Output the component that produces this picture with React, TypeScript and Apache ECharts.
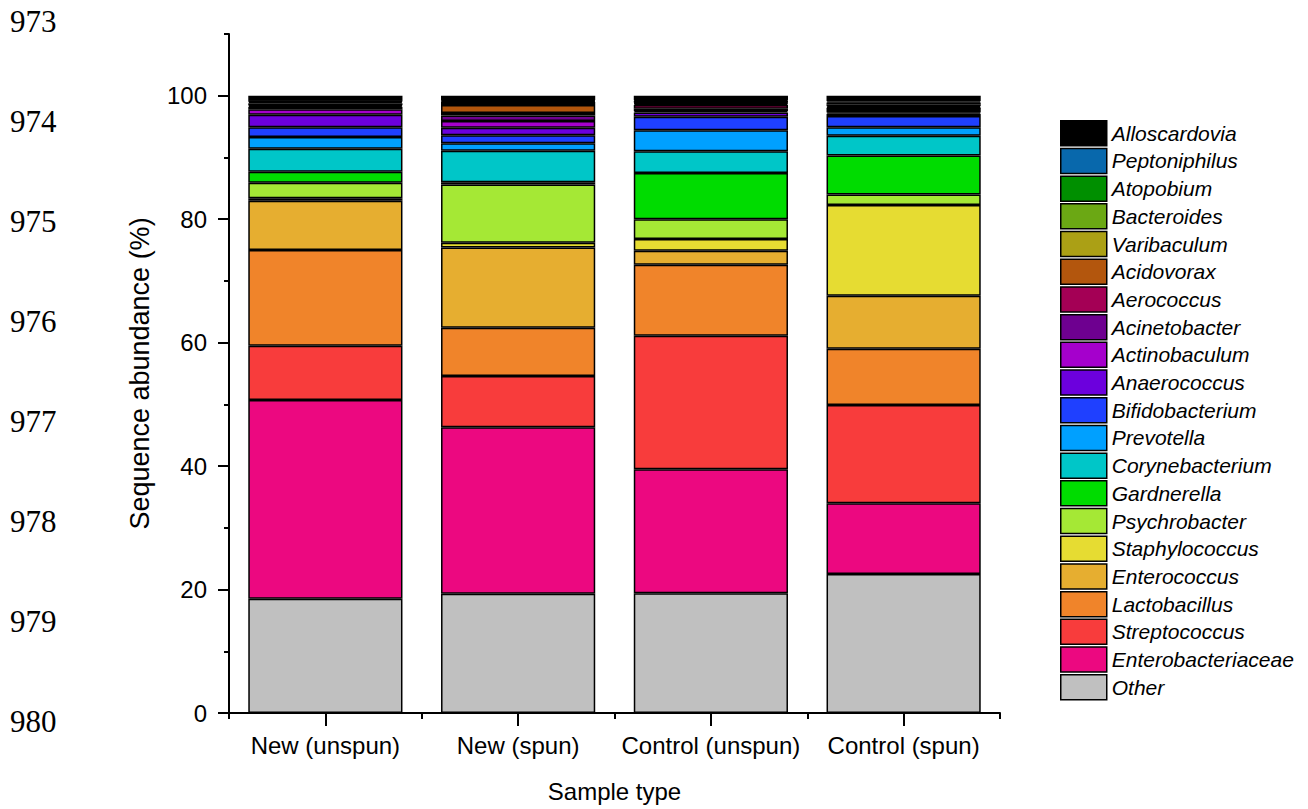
import { useEffect, useRef } from "react";
import * as echarts from "echarts";

// Sample groups on the x axis
const sampleTypes = ["New (unspun)", "New (spun)", "Control (unspun)", "Control (spun)"];

// Relative abundance (%) per taxon, one value per sample group
const other = [18.5, 19.3, 19.4, 22.5];
const enterobacteriaceae = [32.2, 27.0, 20.1, 11.5];
const streptococcus = [8.8, 8.3, 21.6, 15.9];
const lactobacillus = [15.5, 7.8, 11.5, 9.1];
const enterococcus = [8.0, 13.0, 2.3, 8.6];
const staphylococcus = [0.4, 0.8, 1.9, 14.7];
const psychrobacter = [2.5, 9.4, 3.2, 1.7];
const gardnerella = [1.8, 0.4, 7.5, 6.3];
const corynebacterium = [3.7, 5.1, 3.5, 3.2];
const prevotella = [1.9, 1.2, 3.4, 1.4];
const bifidobacterium = [1.6, 1.3, 2.2, 1.8];
const anaerococcus = [2.0, 1.2, 0.7, 0.4];
const actinobaculum = [0.9, 1.1, 0.2, 0.2];
const acinetobacter = [0.4, 0.9, 0.4, 0.4];
const aerococcus = [0.2, 0.4, 0.6, 0.3];
const acidovorax = [0.1, 1.3, 0.2, 0.1];
const varibaculum = [0.3, 0.5, 0.1, 0.2];
const bacteroides = [0.2, 0.1, 0.1, 0.3];
const atopobium = [0.1, 0.1, 0.3, 0.3];
const peptoniphilus = [0.1, 0.1, 0.1, 0.2];
const alloscardovia = [0.8, 0.7, 0.7, 0.9];

// Stack order, bottom to top
const taxonNames = [
  "Other", "Enterobacteriaceae", "Streptococcus", "Lactobacillus", "Enterococcus",
  "Staphylococcus", "Psychrobacter", "Gardnerella", "Corynebacterium", "Prevotella",
  "Bifidobacterium", "Anaerococcus", "Actinobaculum", "Acinetobacter", "Aerococcus",
  "Acidovorax", "Varibaculum", "Bacteroides", "Atopobium", "Peptoniphilus", "Alloscardovia",
];
const taxonValues = [
  other, enterobacteriaceae, streptococcus, lactobacillus, enterococcus,
  staphylococcus, psychrobacter, gardnerella, corynebacterium, prevotella,
  bifidobacterium, anaerococcus, actinobaculum, acinetobacter, aerococcus,
  acidovorax, varibaculum, bacteroides, atopobium, peptoniphilus, alloscardovia,
];
const taxonColors = [
  "#c0c0c0", "#ec0880", "#f83c3c", "#f0842a", "#e6ae30",
  "#e6dc32", "#a5e835", "#00dc00", "#00c6c8", "#00a0ff",
  "#1f40ff", "#6c00dd", "#a500cc", "#6e0090", "#a40055",
  "#b3560d", "#aba015", "#6ba814", "#008f00", "#0868ac", "#000000",
];

// Y axis ticks
const majorTicks = [0, 20, 40, 60, 80, 100];
const minorTicks = [10, 30, 50, 70, 90, 110];

// Manuscript line numbers down the left margin
const lineNumbers = ["973", "974", "975", "976", "977", "978", "979", "980"];

const SANS = '"Liberation Sans", Arial, Helvetica, sans-serif';

export default function App() {
  const ref = useRef<HTMLDivElement>(null);

  useEffect(() => {
    if (!ref.current) return;
    const chart = echarts.init(ref.current, null, { renderer: "svg" });

    const series = taxonNames.map((name, i) => ({
      name,
      type: "bar" as const,
      stack: "abundance",
      xAxisIndex: 0,
      yAxisIndex: 0,
      barCategoryGap: "20%",
      data: taxonValues[i],
      itemStyle: { color: taxonColors[i], borderColor: "#000", borderWidth: 1.5 },
      emphasis: { disabled: true },
    }));

    chart.setOption({
      animation: false,
      backgroundColor: "#fff",
      grid: { left: 229, right: 308, top: 34, bottom: 96, containLabel: false },
      xAxis: [
        {
          type: "category",
          data: sampleTypes,
          position: "bottom",
          axisLine: { show: true, lineStyle: { color: "#000", width: 2 } },
          axisTick: { show: true, alignWithLabel: true, length: 13, lineStyle: { color: "#000", width: 2 } },
          axisLabel: {
            color: "#000",
            fontSize: 24,
            fontFamily: SANS,
            margin: 20,
            interval: 0,
            hideOverlap: false,
          },
          name: "Sample type",
          nameLocation: "middle",
          nameGap: 66,
          nameTextStyle: { color: "#000", fontSize: 24, fontFamily: SANS },
        },
        {
          type: "category",
          data: sampleTypes,
          position: "bottom",
          axisLine: { show: false },
          axisTick: { show: true, alignWithLabel: false, length: 6, lineStyle: { color: "#000", width: 2 } },
          axisLabel: { show: false },
        },
      ],
      yAxis: [
        {
          type: "value",
          min: 0,
          max: 110,
          interval: 20,
          axisLine: { show: true, lineStyle: { color: "#000", width: 2 } },
          axisTick: { show: true, length: 11, customValues: majorTicks, lineStyle: { color: "#000", width: 2 } },
          axisLabel: { color: "#000", fontSize: 24, fontFamily: SANS, margin: 22, customValues: majorTicks },
          splitLine: { show: false },
          name: "Sequence abundance (%)",
          nameLocation: "middle",
          nameGap: 76,
          nameTextStyle: { color: "#000", fontSize: 27, fontFamily: SANS },
        },
        {
          type: "value",
          min: 0,
          max: 110,
          interval: 20,
          position: "left",
          axisLine: { show: false },
          axisTick: { show: true, length: 5, customValues: minorTicks, lineStyle: { color: "#000", width: 2 } },
          axisLabel: { show: false },
          splitLine: { show: false },
        },
      ],
      legend: {
        orient: "vertical",
        left: 1060,
        top: 120,
        padding: 0,
        itemWidth: 46,
        itemHeight: 25,
        itemGap: 1.2,
        icon: "rect",
        selectedMode: false,
        data: [...taxonNames].reverse(),
        itemStyle: { borderColor: "#000", borderWidth: 1.5 },
        textStyle: {
          color: "#000",
          fontSize: 21,
          lineHeight: 25,
          fontStyle: "italic",
          fontFamily: SANS,
        },
      },
      graphic: lineNumbers.map((label, i) => ({
        type: "text",
        left: 10,
        top: 6 + i * 100,
        style: {
          text: label,
          fill: "#000",
          font: '31px "Liberation Serif", "Times New Roman", serif',
        },
      })),
      series,
    });

    return () => chart.dispose();
  }, []);

  return (
    <div
      ref={ref}
      style={{ position: "fixed", left: 0, top: 0, width: 1308, height: 809 }}
    />
  );
}
